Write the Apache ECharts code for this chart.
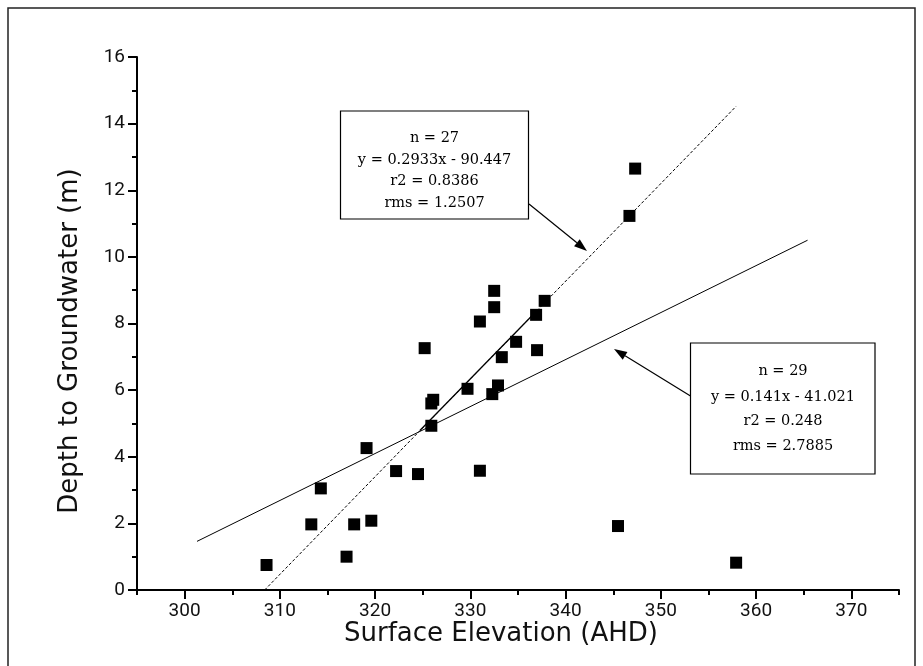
<!DOCTYPE html>
<html>
<head>
<meta charset="utf-8">
<script src="https://cdn.jsdelivr.net/npm/echarts@6/dist/echarts.min.js"></script>
<style>
html,body{margin:0;padding:0;background:#fff;}
#chart{width:923px;height:666px;}
</style>
</head>
<body>
<div id="chart"></div>
<script>
// ---- data ----
const elevation = [308.6, 313.3, 314.3, 317.0, 317.8, 319.1, 319.6, 322.2, 324.5, 325.2, 325.9, 326.1, 325.9, 329.7, 331.0, 331.0, 332.5, 332.5, 332.3, 332.9, 333.3, 334.8, 336.9, 337.8, 337.0, 347.3, 346.7, 345.5, 357.9];
const depth     = [0.75, 1.97, 3.05, 1.00, 1.97, 4.26, 2.08, 3.57, 3.48, 7.26, 5.60, 5.71, 4.93, 6.04, 3.58, 8.06, 8.98, 8.49, 5.88, 6.14, 6.99, 7.45, 8.26, 8.68, 7.20, 12.65, 11.23, 1.92, 0.82];
// fitted lines (end points)
const fitAllX = [301.3, 365.4];
const fitAllY = [1.46, 10.50];
const fitSubX = [308.4, 357.9];
const fitSubY = [0.00, 14.52];
const fitSubSolidX = [324.7, 336.8];
const fitSubSolidY = [4.79, 8.33];
// tick labels
const xTickLabels = [300, 310, 320, 330, 340, 350, 360, 370];
const xMinorTicks = [295, 305, 315, 325, 335, 345, 355, 365, 375];
const yTickLabels = [0, 2, 4, 6, 8, 10, 12, 14, 16];
// titles and annotation texts
const xTitle = 'Surface Elevation (AHD)';
const yTitle = 'Depth to Groundwater (m)';
const box1Lines = ['n = 27', 'y = 0.2933x - 90.447', 'r2 = 0.8386', 'rms = 1.2507'];
const box2Lines = ['n = 29', 'y = 0.141x - 41.021', 'r2 = 0.248', 'rms = 2.7885'];

const pts = elevation.map((x, i) => [x, depth[i]]);
const zip = (xs, ys) => xs.map((x, i) => [x, ys[i]]);

const chart = echarts.init(document.getElementById('chart'), null, {renderer: 'canvas'});
const axisFont = 'Roboto, "DejaVu Sans", sans-serif';
const titleFont = '"DejaVu Sans", sans-serif';
const serif = '"DejaVu Serif", "Liberation Serif", serif';

function arrow(x1, y1, x2, y2) {
  const ang = Math.atan2(y2 - y1, x2 - x1);
  const L = 13, W = 4.5;
  const bx = x2 - L * Math.cos(ang), by = y2 - L * Math.sin(ang);
  const px = -Math.sin(ang) * W, py = Math.cos(ang) * W;
  return [
    {type: 'line', shape: {x1: x1, y1: y1, x2: bx, y2: by}, style: {stroke: '#000', lineWidth: 1.2}, z: 10},
    {type: 'polygon', shape: {points: [[x2, y2], [bx + px, by + py], [bx - px, by - py]]}, style: {fill: '#000'}, z: 10}
  ];
}
function box(x, y, w, h, lines, cx, ys) {
  const els = [{type: 'rect', shape: {x: x, y: y, width: w, height: h}, style: {fill: '#fff', stroke: '#000', lineWidth: 1.2}, z: 9}];
  lines.forEach((t, i) => {
    els.push({type: 'text', x: cx, y: ys[i], style: {text: t, font: '14.5px ' + serif, fill: '#000', align: 'center', verticalAlign: 'middle'}, z: 11});
  });
  return els;
}

const graphics = [
  {type: 'rect', shape: {x: 8, y: 8, width: 907, height: 700}, style: {fill: null, stroke: '#222', lineWidth: 1.5}, z: 1},
  {type: 'text', x: 501, y: 634, style: {text: xTitle, font: '26px ' + titleFont, fill: '#111', align: 'center', verticalAlign: 'middle'}, z: 5},
  {type: 'text', x: 70, y: 341, rotation: Math.PI / 2, style: {text: yTitle, font: '26px ' + titleFont, fill: '#111', align: 'center', verticalAlign: 'middle'}, z: 5}
].concat(
  box(340.5, 111, 188, 108, box1Lines, 434.5, [138.5, 160, 181.5, 203]),
  box(690.5, 343, 184.5, 131, box2Lines, 783, [371, 397, 421.5, 446.5]),
  arrow(529, 204, 587, 251),
  arrow(690.5, 396, 614, 349)
);

const option = {
  backgroundColor: '#fff',
  animation: false,
  grid: {left: 137, right: 24, top: 57, bottom: 76},
  xAxis: [{
    type: 'value', min: 295, max: 375, interval: 5,
    axisLine: {show: true, onZero: false, lineStyle: {color: '#000', width: 2}},
    axisTick: {show: true, inside: false, length: 9, lineStyle: {color: '#000', width: 2}, customValues: xTickLabels},
    axisLabel: {show: true, margin: 12, fontFamily: axisFont, fontSize: 19, color: '#111', customValues: xTickLabels},
    splitLine: {show: false}
  }, {
    type: 'value', min: 295, max: 375, interval: 5, position: 'bottom', offset: 0,
    axisLine: {show: false},
    axisTick: {show: true, inside: false, length: 5, lineStyle: {color: '#000', width: 2}, customValues: xMinorTicks},
    axisLabel: {show: false},
    splitLine: {show: false}
  }],
  yAxis: {
    type: 'value', min: 0, max: 16, interval: 2,
    axisLine: {show: true, onZero: false, lineStyle: {color: '#000', width: 2}},
    axisTick: {show: true, length: 9, lineStyle: {color: '#000', width: 2}},
    minorTick: {show: true, splitNumber: 2, length: 5, lineStyle: {color: '#000', width: 2}},
    axisLabel: {margin: 12, fontFamily: axisFont, fontSize: 19, color: '#111',
      formatter: v => (yTickLabels.indexOf(v) >= 0 ? String(v) : '')},
    splitLine: {show: false}
  },
  series: [
    {type: 'line', data: zip(fitAllX, fitAllY), symbol: 'none', lineStyle: {color: '#000', width: 1}, z: 2, silent: true},
    {type: 'line', data: zip(fitSubX, fitSubY), symbol: 'none', lineStyle: {color: '#000', width: 1, type: [3, 2]}, z: 2, silent: true},
    {type: 'line', data: zip(fitSubSolidX, fitSubSolidY), symbol: 'none', lineStyle: {color: '#000', width: 1.3}, z: 2, silent: true},
    {type: 'scatter', data: pts, symbol: 'rect', symbolSize: 12, itemStyle: {color: '#000', opacity: 1}, z: 3}
  ],
  graphic: graphics
};
chart.setOption(option);
</script>
</body>
</html>
